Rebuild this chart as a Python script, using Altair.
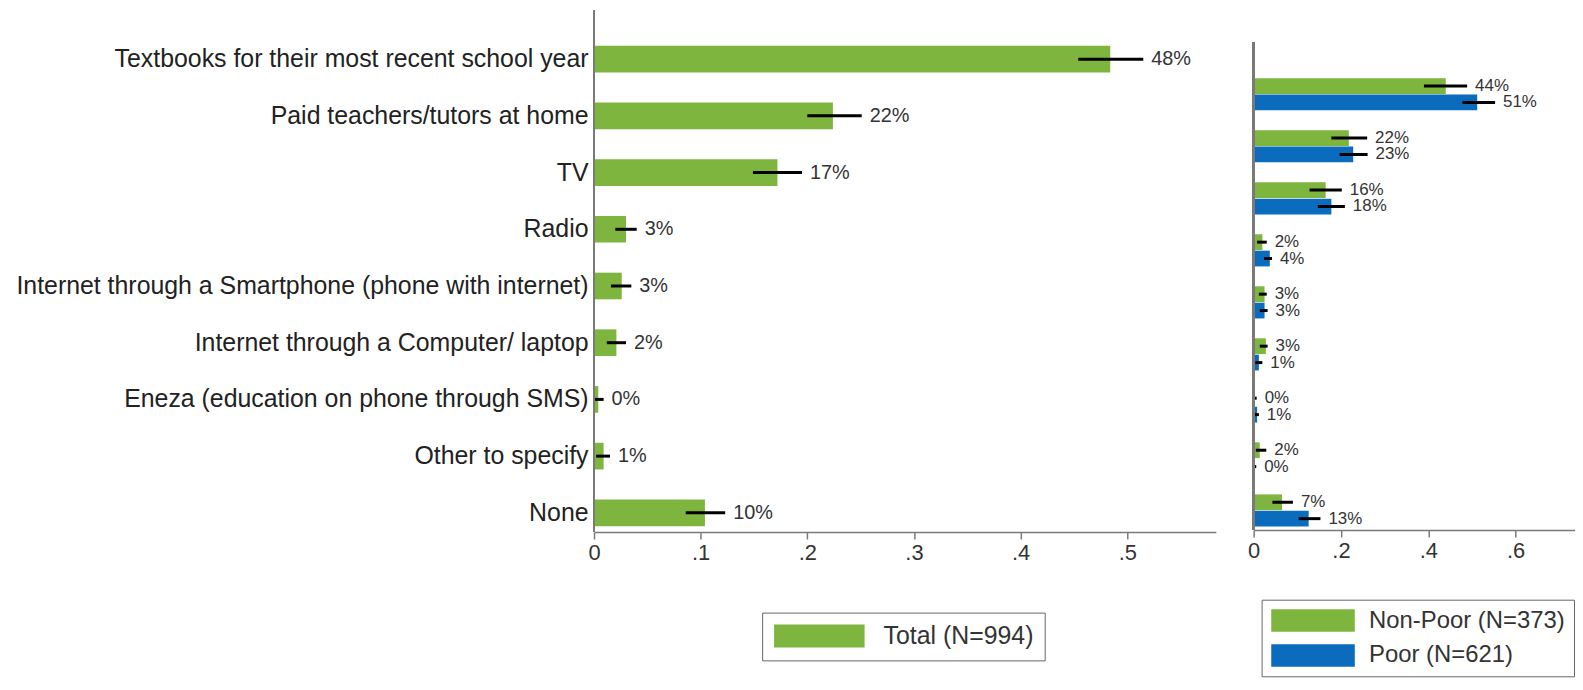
import altair as alt
import pandas as pd

categories = [
    "Textbooks for their most recent school year",
    "Paid teachers/tutors at home",
    "TV",
    "Radio",
    "Internet through a Smartphone (phone with internet)",
    "Internet through a Computer/ laptop",
    "Eneza (education on phone through SMS)",
    "Other to specify",
    "None",
]

total_name = "Total (N=994)"
total = [0.484, 0.224, 0.172, 0.030, 0.026, 0.021, 0.004, 0.009, 0.104]
total_lo = [0.454, 0.200, 0.149, 0.020, 0.016, 0.012, 0.000, 0.002, 0.086]
total_hi = [0.515, 0.251, 0.195, 0.040, 0.035, 0.030, 0.009, 0.015, 0.123]
total_labels = ["48%", "22%", "17%", "3%", "3%", "2%", "0%", "1%", "10%"]

groups = ["Non-Poor (N=373)", "Poor (N=621)"]
nonpoor = [0.440, 0.218, 0.165, 0.020, 0.025, 0.028, 0.001, 0.014, 0.065]
nonpoor_lo = [0.390, 0.178, 0.128, 0.008, 0.012, 0.014, 0.000, 0.005, 0.043]
nonpoor_hi = [0.489, 0.260, 0.202, 0.030, 0.030, 0.032, 0.007, 0.029, 0.090]
nonpoor_labels = ["44%", "22%", "16%", "2%", "3%", "3%", "0%", "2%", "7%"]
poor = [0.512, 0.228, 0.178, 0.037, 0.025, 0.012, 0.008, 0.002, 0.126]
poor_lo = [0.478, 0.197, 0.147, 0.024, 0.014, 0.004, 0.000, 0.000, 0.103]
poor_hi = [0.553, 0.261, 0.209, 0.042, 0.032, 0.020, 0.012, 0.006, 0.153]
poor_labels = ["51%", "23%", "18%", "4%", "3%", "1%", "1%", "0%", "13%"]

left_ticks = [0, 0.1, 0.2, 0.3, 0.4, 0.5]
right_ticks = [0, 0.2, 0.4, 0.6]

GREEN = "#7EB53F"
BLUE = "#0B6CBE"
FONT = "Liberation Sans"
TXT = "#333333"
AXC = "#7a7a7a"

left_df = pd.DataFrame({
    "cat": categories, "val": total, "lo": total_lo, "hi": total_hi,
    "lbl": total_labels, "grp": [total_name] * len(categories),
})
right_df = pd.DataFrame({
    "cat": categories * 2,
    "val": nonpoor + poor,
    "lo": nonpoor_lo + poor_lo,
    "hi": nonpoor_hi + poor_hi,
    "lbl": nonpoor_labels + poor_labels,
    "grp": [groups[0]] * len(categories) + [groups[1]] * len(categories),
})

LEFT_W, LEFT_H = 625, 524
RIGHT_W, RIGHT_H = 323, 522

label_expr = "datum.value == 0 ? '0' : replace(format(datum.value, '.1f'), '0.', '.')"

def x_axis(values):
    return alt.Axis(values=values, labelExpr=label_expr, title=None, grid=False,
                    tickSize=7, tickColor=AXC, domainColor=AXC, domainWidth=1.5,
                    tickWidth=1.5, labelFontSize=22, labelFont=FONT, labelColor=TXT,
                    labelPadding=4, labelFlush=False)

no_frame = alt.ViewBackground(stroke="transparent", strokeWidth=0)

# ---------- left panel ----------
ly = alt.Y("cat:N", sort=categories,
           scale=alt.Scale(range=[20.2, 533.2], paddingInner=0.53, paddingOuter=0.265),
           axis=alt.Axis(title=None, ticks=False, domain=False, labelFontSize=25,
                         labelFont=FONT, labelColor="#222222", labelPadding=6,
                         labelLimit=800))
lx = alt.X("val:Q", scale=alt.Scale(domain=[0, 0.583], nice=False, zero=True),
           axis=x_axis(left_ticks))

# legend swatch: 23px tall, 91px wide, left-anchored
left_legend = alt.Legend(
    title=None, orient="none", legendX=169, legendY=605,
    symbolType="M-1,-1L6.91,-1L6.91,1L-1,1Z", symbolSize=529,
    symbolStrokeWidth=0, labelFontSize=25, labelFont=FONT, labelColor=TXT,
    labelLimit=500, labelOffset=86, strokeColor="#666666", padding=11,
)

left_axisline = alt.Chart(left_df).mark_rule(color=AXC, strokeWidth=2).encode(
    x=alt.value(0), y=alt.value(0), y2=alt.value(LEFT_H))
left_bars = alt.Chart(left_df).mark_bar().encode(
    y=ly, x=lx,
    color=alt.Color("grp:N", scale=alt.Scale(domain=[total_name], range=[GREEN]),
                    legend=left_legend))
left_err = alt.Chart(left_df).mark_rule(color="black", strokeWidth=3).encode(
    y=ly, x="lo:Q", x2="hi:Q")
left_txt = alt.Chart(left_df).mark_text(align="left", baseline="middle", dx=8,
                                        fontSize=20, font=FONT, color=TXT).encode(
    y=ly, x="hi:Q", text="lbl:N")
left = alt.layer(left_bars, left_err, left_txt, left_axisline).properties(
    width=LEFT_W, height=LEFT_H, view=no_frame)

# ---------- right panel ----------
ry = alt.Y("cat:N", sort=categories,
           scale=alt.Scale(range=[57.85, 528.45], paddingInner=0.382, paddingOuter=0.191),
           axis=None)
ryo = alt.YOffset("grp:N", sort=groups, scale=alt.Scale(paddingInner=0.04, paddingOuter=0))
rx = alt.X("val:Q", scale=alt.Scale(domain=[0, 0.736], nice=False, zero=True),
           axis=x_axis(right_ticks))

# legend swatch: 22.6px tall, 84px wide, left-anchored
right_legend = alt.Legend(
    title=None, orient="none", legendX=8, legendY=592,
    symbolType="M-1,-1L6.43,-1L6.43,1L-1,1Z", symbolSize=511,
    symbolStrokeWidth=0, labelFontSize=24, labelFont=FONT, labelColor=TXT,
    labelLimit=500, labelOffset=75, strokeColor="#666666", padding=9, rowPadding=11,
)

right_axisline = alt.Chart(right_df).mark_rule(color=AXC, strokeWidth=2).encode(
    x=alt.value(0), y=alt.value(32), y2=alt.value(RIGHT_H))
right_bars = alt.Chart(right_df).mark_bar().encode(
    y=ry, yOffset=ryo, x=rx,
    color=alt.Color("grp:N", sort=groups,
                    scale=alt.Scale(domain=groups, range=[GREEN, BLUE]),
                    legend=right_legend))
right_err = alt.Chart(right_df).mark_rule(color="black", strokeWidth=3).encode(
    y=ry, yOffset=ryo, x="lo:Q", x2="hi:Q")
right_txt = alt.Chart(right_df).mark_text(align="left", baseline="middle", dx=8,
                                          fontSize=17, font=FONT, color=TXT).encode(
    y=ry, yOffset=ryo, x="hi:Q", text="lbl:N")
right = alt.layer(right_bars, right_err, right_txt, right_axisline).properties(
    width=RIGHT_W, height=RIGHT_H, view=no_frame)

chart = alt.hconcat(left, right, spacing=31).resolve_scale(
    color="independent", y="independent", x="independent", yOffset="independent"
).properties(
    padding={"left": 7, "top": 0, "right": 0, "bottom": 0}
).configure_view(stroke="transparent", strokeWidth=0).configure(background="white")

chart.save("out.html", embed_options={"renderer": "svg", "actions": False})
